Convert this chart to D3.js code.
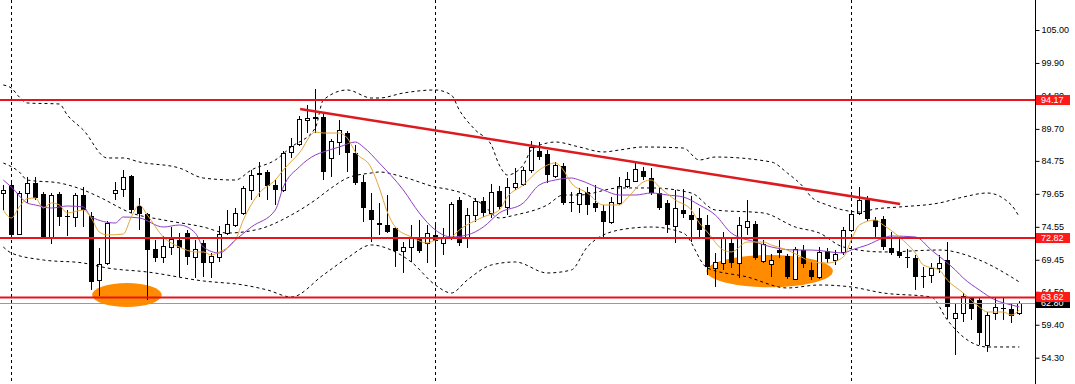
<!DOCTYPE html>
<html>
<head>
<meta charset="utf-8">
<script src="https://cdn.jsdelivr.net/npm/d3@7"></script>
<style>
  html, body { margin: 0; padding: 0; background: #fff; }
  svg { display: block; }
  .axis text { font-family: "Liberation Sans", Arial, sans-serif; font-size: 9px; fill: #000; }
  .tag text { font-family: "Liberation Sans", Arial, sans-serif; font-size: 9px; fill: #fff; }
</style>
</head>
<body>
<div id="chart"></div>
<script>
// ---------------- data ----------------
var opens = [
  79.78, 81.02, 73.44, 79.78, 81.33, 79.63, 72.82, 79.63, 76.22, 76.07,
  79.47, 76.22, 66.32, 68.95, 79.78, 80.40, 82.41, 77.77, 76.53, 71.12,
  69.88, 71.43, 72.51, 73.59, 69.88, 72.05, 69.11, 69.88, 73.59, 74.83,
  76.69, 80.25, 82.88, 83.03, 81.02, 80.25, 86.13, 87.36, 91.08, 91.54,
  91.54, 85.20, 87.67, 89.06, 85.97, 81.48, 77.15, 75.14, 74.83, 74.37,
  70.81, 71.43, 72.82, 72.05, 73.29, 72.05, 72.82, 78.70, 72.82, 76.38,
  78.55, 76.69, 80.09, 77.62, 80.71, 81.18, 83.34, 86.28, 85.82, 82.41,
  83.96, 78.39, 78.08, 79.94, 78.24, 77.00, 75.30, 78.24, 80.87, 81.64,
  83.19, 82.10, 79.78, 78.24, 74.68, 77.15, 76.38, 75.92, 74.83, 68.18,
  68.95, 72.05, 68.95, 74.52, 74.99, 69.26, 68.80, 70.96, 70.04, 66.48,
  70.96, 67.87, 66.79, 70.81, 69.42, 70.66, 74.06, 76.69, 78.70, 75.61,
  75.76, 71.27, 70.66, 69.88, 69.73, 66.94, 67.10, 68.18, 69.42, 60.45,
  61.22, 63.54, 63.23, 56.27, 61.22, 61.99, 61.84, 61.22
];
var highs = [
  81.02, 81.48, 80.09, 82.26, 82.26, 79.94, 79.78, 79.94, 77.15, 79.78,
  80.71, 76.84, 71.27, 75.45, 81.48, 83.34, 82.57, 79.01, 76.69, 72.51,
  73.13, 74.52, 73.59, 74.06, 72.51, 72.51, 70.50, 74.68, 77.15, 77.46,
  80.87, 83.34, 84.58, 83.34, 81.79, 86.28, 88.29, 91.69, 93.40, 95.87,
  92.16, 88.14, 91.08, 89.37, 87.21, 82.57, 79.78, 78.24, 79.47, 74.52,
  72.20, 74.83, 75.61, 74.83, 74.83, 74.37, 78.39, 79.16, 77.46, 79.01,
  79.16, 81.18, 80.87, 82.10, 83.65, 83.81, 87.83, 87.67, 86.43, 84.58,
  84.42, 79.94, 80.56, 80.71, 81.02, 77.93, 79.16, 82.26, 83.03, 84.42,
  83.81, 83.65, 80.56, 78.70, 80.25, 80.40, 79.32, 77.46, 76.38, 70.50,
  73.75, 72.82, 76.07, 78.70, 75.45, 72.51, 70.35, 72.51, 70.35, 71.43,
  71.74, 69.11, 71.43, 71.27, 70.96, 74.52, 77.15, 80.71, 79.32, 76.07,
  76.22, 73.75, 72.98, 71.12, 70.19, 68.34, 68.95, 70.19, 72.20, 62.77,
  64.31, 63.69, 63.69, 61.37, 63.54, 63.54, 62.77, 63.05
];
var lows = [
  77.15, 72.98, 73.29, 78.24, 78.70, 72.67, 71.89, 74.68, 73.13, 74.52,
  74.52, 64.78, 63.85, 68.64, 78.70, 79.16, 76.69, 74.06, 63.23, 69.11,
  68.95, 70.19, 66.79, 68.64, 66.63, 66.79, 66.63, 69.11, 73.29, 74.52,
  76.38, 78.70, 79.16, 78.70, 77.93, 79.94, 85.20, 87.05, 89.06, 89.06,
  81.79, 82.26, 85.66, 83.03, 81.02, 75.30, 72.20, 73.29, 73.59, 68.34,
  67.41, 69.11, 70.50, 68.95, 68.64, 70.19, 72.51, 71.58, 71.27, 75.30,
  76.07, 75.92, 77.15, 76.38, 80.25, 80.87, 82.88, 84.89, 81.33, 82.10,
  77.93, 76.84, 76.69, 76.38, 76.84, 72.67, 74.99, 77.93, 80.56, 81.48,
  81.79, 79.47, 77.15, 73.59, 72.05, 75.92, 72.20, 72.82, 67.10, 65.24,
  67.87, 68.18, 66.63, 73.29, 69.42, 68.95, 66.79, 69.73, 66.48, 66.32,
  68.18, 66.32, 66.48, 68.95, 68.64, 70.19, 73.75, 76.38, 75.45, 72.98,
  70.96, 70.19, 69.73, 68.18, 64.78, 65.09, 65.86, 67.41, 60.29, 54.72,
  59.83, 60.14, 56.27, 55.19, 60.14, 60.14, 59.67, 60.91
];
var closes = [
  80.25, 73.29, 79.78, 81.33, 79.01, 72.82, 79.47, 76.07, 76.07, 79.47,
  77.15, 66.01, 68.80, 75.14, 80.25, 82.26, 77.15, 76.53, 70.96, 69.73,
  71.58, 72.67, 71.27, 69.88, 71.12, 68.95, 70.04, 73.44, 74.99, 76.69,
  80.56, 82.57, 82.57, 80.87, 80.25, 85.97, 87.05, 91.23, 91.39, 91.23,
  83.03, 87.83, 89.53, 85.97, 81.33, 77.46, 75.61, 74.83, 73.75, 70.81,
  71.43, 72.82, 70.81, 73.59, 72.36, 72.98, 78.08, 72.05, 76.38, 78.55,
  76.69, 79.94, 77.62, 80.71, 81.33, 83.34, 86.90, 85.35, 82.57, 84.11,
  78.24, 78.24, 79.78, 77.93, 77.46, 75.30, 78.39, 80.87, 81.95, 83.50,
  82.26, 79.78, 77.46, 74.83, 77.46, 76.53, 75.61, 74.06, 68.34, 69.11,
  72.82, 68.95, 74.83, 75.45, 69.73, 71.89, 69.42, 70.50, 66.79, 71.12,
  68.80, 66.79, 70.66, 69.57, 70.35, 74.06, 76.53, 78.70, 75.76, 74.52,
  71.43, 70.50, 70.04, 69.73, 66.79, 66.79, 68.18, 68.95, 62.15, 61.22,
  63.85, 61.84, 58.12, 60.91, 62.15, 61.92, 60.75, 62.80
];

// indicator lines, [bar index, price]
var maFast = [
  [0,77.15],[1,75.92],[2,77.62],[3,78.9],[4,79.01],[5,77.46],[6,78.24],[7,77.93],[8,76.69],
  [10,77.15],[11,75.92],[12,73.75],[13,73.29],[15,73.44],[16,76.07],[17,77.93],[18,76.38],
  [20,72.98],[22,71.43],[24,70.66],[25,70.66],[26,70.19],[27,70.66],[29,72.51],[30,75.61],
  [32,79.78],[34,81.79],[35,83.34],[37,85.97],[39,89.22],[40,89.06],[42,89.06],[43,88.29],
  [44,86.13],[46,83.65],[47,80.56],[48,76.84],[49,74.52],[51,72.98],[53,72.05],[54,72.51],
  [56,72.98],[57,74.06],[60,76.07],[62,77.15],[63,79.16],[65,81.02],[67,83.34],[69,84.42],
  [70,83.34],[71,81.33],[73,79.78],[75,77.93],[77,77.93],[78,79.01],[80,81.48],[81,81.79],
  [82,80.71],[84,78.70],[86,77.15],[87,75.14],[88,73.75],[90,70.96],[91,70.66],[93,72.20],
  [95,72.20],[96,71.74],[98,70.96],[100,69.73],[101,69.11],[103,68.95],[105,69.88],[106,72.51],
  [107,74.83],[109,75.61],[110,74.83],[112,72.98],[114,70.50],[115,68.64],[117,67.87],[118,66.32],
  [120,64.31],[122,62.15],[123,61.37],[125,61.37],[126,60.91],[127,61.68]
];
var maSlow = [
  [0,81.79],[1,80.71],[3,78.24],[4,77.93],[6,77.46],[8,77.77],[10,77.62],[11,76.07],[14,75.14],
  [15,76.07],[17,75.92],[20,74.52],[22,74.83],[24,73.59],[25,71.43],[27,70.50],[29,72.51],
  [31,74.52],[34,77.15],[35,80.71],[37,83.81],[39,85.66],[40,86.13],[42,86.90],[44,87.67],
  [45,86.90],[47,84.42],[50,80.25],[52,76.69],[54,74.06],[56,72.98],[58,73.29],[60,74.52],
  [62,76.69],[65,78.24],[67,81.02],[69,81.79],[71,82.10],[72,81.79],[75,80.25],[77,79.47],
  [79,79.47],[81,79.78],[83,79.47],[85,79.16],[87,77.93],[89,76.38],[91,73.59],[94,72.20],
  [96,71.43],[99,70.96],[101,70.96],[105,70.50],[106,70.96],[108,71.74],[110,72.82],[111,73.13],
  [114,72.98],[116,70.96],[119,67.87],[120,66.63],[122,64.78],[124,63.23],[126,62.46],[127,62.15]
];
var bandUpper = [
  [0,96.49],[1,96.03],[2,94.63],[3,93.71],[7,93.55],[8,91.85],[10,89.53],[13,85.20],[15,85.20],
  [17,84.58],[22,83.65],[25,82.10],[29,81.79],[31,83.34],[34,84.89],[36,86.90],[39,89.84],
  [40,94.17],[43,95.72],[46,94.48],[47,94.48],[50,95.25],[54,95.72],[56,94.94],[57,92.62],
  [59,89.53],[61,87.21],[62,84.11],[63,82.57],[65,84.11],[66,86.43],[68,87.52],[69,87.67],
  [72,86.90],[75,86.13],[77,86.43],[80,86.90],[85,86.74],[87,84.89],[89,85.35],[96,84.58],
  [98,82.88],[100,80.71],[101,79.16],[103,77.93],[105,77.15],[107,76.84],[109,77.31],
  [112,77.62],[117,78.24],[120,79.16],[123,79.78],[126,77.93],[127,76.07]
];
var bandMiddle = [
  [0,84.42],[2,83.03],[3,81.79],[7,81.33],[10,80.25],[12,79.16],[16,76.69],[20,75.61],
  [25,74.52],[28,73.59],[32,74.21],[36,76.38],[39,78.70],[41,80.56],[43,82.10],[46,82.88],
  [47,83.03],[50,82.26],[54,80.71],[56,80.25],[58,79.47],[60,77.93],[62,75.92],[64,76.38],
  [68,77.93],[70,79.47],[72,79.47],[77,80.56],[81,80.56],[86,79.78],[89,77.15],[95,76.69],
  [99,74.52],[102,73.59],[105,71.43],[110,70.66],[117,70.96],[122,69.42],[126,66.79],[127,66.01]
];
var bandLower = [
  [0,71.43],[1,70.50],[5,69.42],[10,68.95],[13,68.18],[18,67.56],[25,66.17],[30,65.55],
  [33,64.78],[36,63.69],[40,67.10],[43,69.73],[46,71.74],[49,70.66],[51,69.11],[54,65.55],
  [56,64.31],[58,66.32],[61,68.64],[64,69.11],[68,67.41],[71,67.87],[73,71.43],[77,74.06],
  [81,74.52],[85,73.59],[88,68.18],[93,66.79],[98,65.09],[102,65.55],[106,65.24],[110,64.31],
  [116,63.69],[118,60.14],[120,57.51],[123,55.96],[127,55.96]
];

var levels = [94.17, 72.82, 63.62];
var bidPrice = 62.80;
var tickValues = [110.10, 105.00, 99.90, 94.80, 89.70, 84.75, 79.65, 74.55, 69.45, 64.50, 59.40, 54.30];
var sessionBreaks = [1, 54, 106];
var trendLine = [[37.1, 92.78], [112.1, 78.08]];
var zones = [
  { from: 11.1, to: 19.8, top: 65.86, bottom: 62.15 },
  { from: 87.9, to: 103.7, top: 70.20, bottom: 65.20 }
];

// ---------------- layout ----------------
var width = 1075, height = 384;
var axisX = 1035;

var svg = d3.select("#chart").append("svg")
    .attr("width", width)
    .attr("height", height);

var x = d3.scaleLinear().domain([0, opens.length - 1]).range([3.3, 1019.3]);
var y = d3.scaleLinear().domain([54.30, 105.00]).range([357.7, 30]);

svg.append("clipPath").attr("id", "plot-clip")
  .append("rect").attr("x", 0).attr("y", 0).attr("width", axisX).attr("height", height);

var plot = svg.append("g").attr("clip-path", "url(#plot-clip)");

// orange zones
zones.forEach(function (z) {
    plot.append("ellipse")
        .attr("cx", (x(z.from) + x(z.to)) / 2)
        .attr("cy", (y(z.top) + y(z.bottom)) / 2)
        .attr("rx", (x(z.to) - x(z.from)) / 2)
        .attr("ry", (y(z.bottom) - y(z.top)) / 2)
        .attr("fill", "#ff8c00");
});

// period separators
plot.selectAll("line.sep").data(sessionBreaks).enter().append("line")
    .attr("class", "sep")
    .attr("x1", function (d) { return Math.round(x(d)) + 0.5; })
    .attr("x2", function (d) { return Math.round(x(d)) + 0.5; })
    .attr("y1", 0).attr("y2", height)
    .attr("stroke", "#000").attr("stroke-width", 1)
    .attr("stroke-dasharray", "3,3");

// candles
var bars = d3.range(opens.length).map(function (i) {
    return { i: i, o: opens[i], h: highs[i], l: lows[i], c: closes[i] };
});

var candle = plot.append("g").selectAll("g").data(bars).enter().append("g");

candle.append("line")
    .attr("x1", function (d) { return Math.round(x(d.i)) + 0.5; })
    .attr("x2", function (d) { return Math.round(x(d.i)) + 0.5; })
    .attr("y1", function (d) { return y(d.h); })
    .attr("y2", function (d) { return y(d.l); })
    .attr("stroke", "#000").attr("stroke-width", 1);

candle.append("rect")
    .attr("x", function (d) { return Math.round(x(d.i)) - 2 + (d.c >= d.o ? 0.5 : 0); })
    .attr("y", function (d) { return Math.round(y(Math.max(d.o, d.c))) + (d.c >= d.o ? 0.5 : 0); })
    .attr("width", function (d) { return d.c >= d.o ? 4 : 5; })
    .attr("height", function (d) {
        return Math.max(1, Math.round(Math.abs(y(d.o) - y(d.c))));
    })
    .attr("fill", function (d) { return d.c >= d.o ? "#fff" : "#000"; })
    .attr("stroke", function (d) { return d.c >= d.o ? "#000" : "none"; })
    .attr("stroke-width", 1);

// indicators
var curve = function (pts) {
    return d3.line()
        .x(function (d) { return x(d[0]); })
        .y(function (d) { return y(d[1]); })
        .curve(d3.curveMonotoneX)(pts);
};

[bandUpper, bandMiddle, bandLower].forEach(function (pts) {
    plot.append("path")
        .attr("d", curve(pts))
        .attr("fill", "none")
        .attr("stroke", "#000")
        .attr("stroke-width", 1)
        .attr("stroke-dasharray", "3,3");
});

plot.append("path").attr("d", curve(maSlow))
    .attr("fill", "none").attr("stroke", "#8e3fc4").attr("stroke-width", 1);
plot.append("path").attr("d", curve(maFast))
    .attr("fill", "none").attr("stroke", "#e3a53c").attr("stroke-width", 1);

// horizontal levels
plot.append("line")
    .attr("x1", 0).attr("x2", axisX)
    .attr("y1", Math.round(y(bidPrice)) + 0.5).attr("y2", Math.round(y(bidPrice)) + 0.5)
    .attr("stroke", "#9a9a9a").attr("stroke-width", 1);

plot.selectAll("line.level").data(levels).enter().append("line")
    .attr("class", "level")
    .attr("x1", 0).attr("x2", axisX)
    .attr("y1", function (d) { return y(d); })
    .attr("y2", function (d) { return y(d); })
    .attr("stroke", "#e8141b").attr("stroke-width", 2);

// trend line
plot.append("line")
    .attr("x1", x(trendLine[0][0])).attr("y1", y(trendLine[0][1]))
    .attr("x2", x(trendLine[1][0])).attr("y2", y(trendLine[1][1]))
    .attr("stroke", "#dc1a1f").attr("stroke-width", 2.5);

// right price axis
svg.append("line")
    .attr("x1", axisX + 0.5).attr("x2", axisX + 0.5)
    .attr("y1", 0).attr("y2", height)
    .attr("stroke", "#000");

var yAxis = d3.axisRight(y)
    .tickValues(tickValues)
    .tickSize(4)
    .tickPadding(2)
    .tickFormat(d3.format(".2f"));

var axisG = svg.append("g")
    .attr("class", "axis")
    .attr("transform", "translate(" + (axisX + 0.5) + ",0)")
    .call(yAxis);
axisG.select(".domain").remove();
axisG.selectAll(".tick line").attr("stroke", "#000");

// price tags
function tag(price, fill) {
    var g = svg.append("g").attr("class", "tag");
    var yy = Math.round(y(price));
    g.append("rect")
        .attr("x", axisX + 1).attr("y", yy - 5)
        .attr("width", 34).attr("height", 10)
        .attr("fill", fill);
    g.append("text")
        .attr("x", axisX + 6).attr("y", yy)
        .attr("dy", "0.34em")
        .text(d3.format(".2f")(price));
}
tag(bidPrice, "#000");
levels.forEach(function (p) { tag(p, "#ff1a1a"); });
</script>
</body>
</html>
